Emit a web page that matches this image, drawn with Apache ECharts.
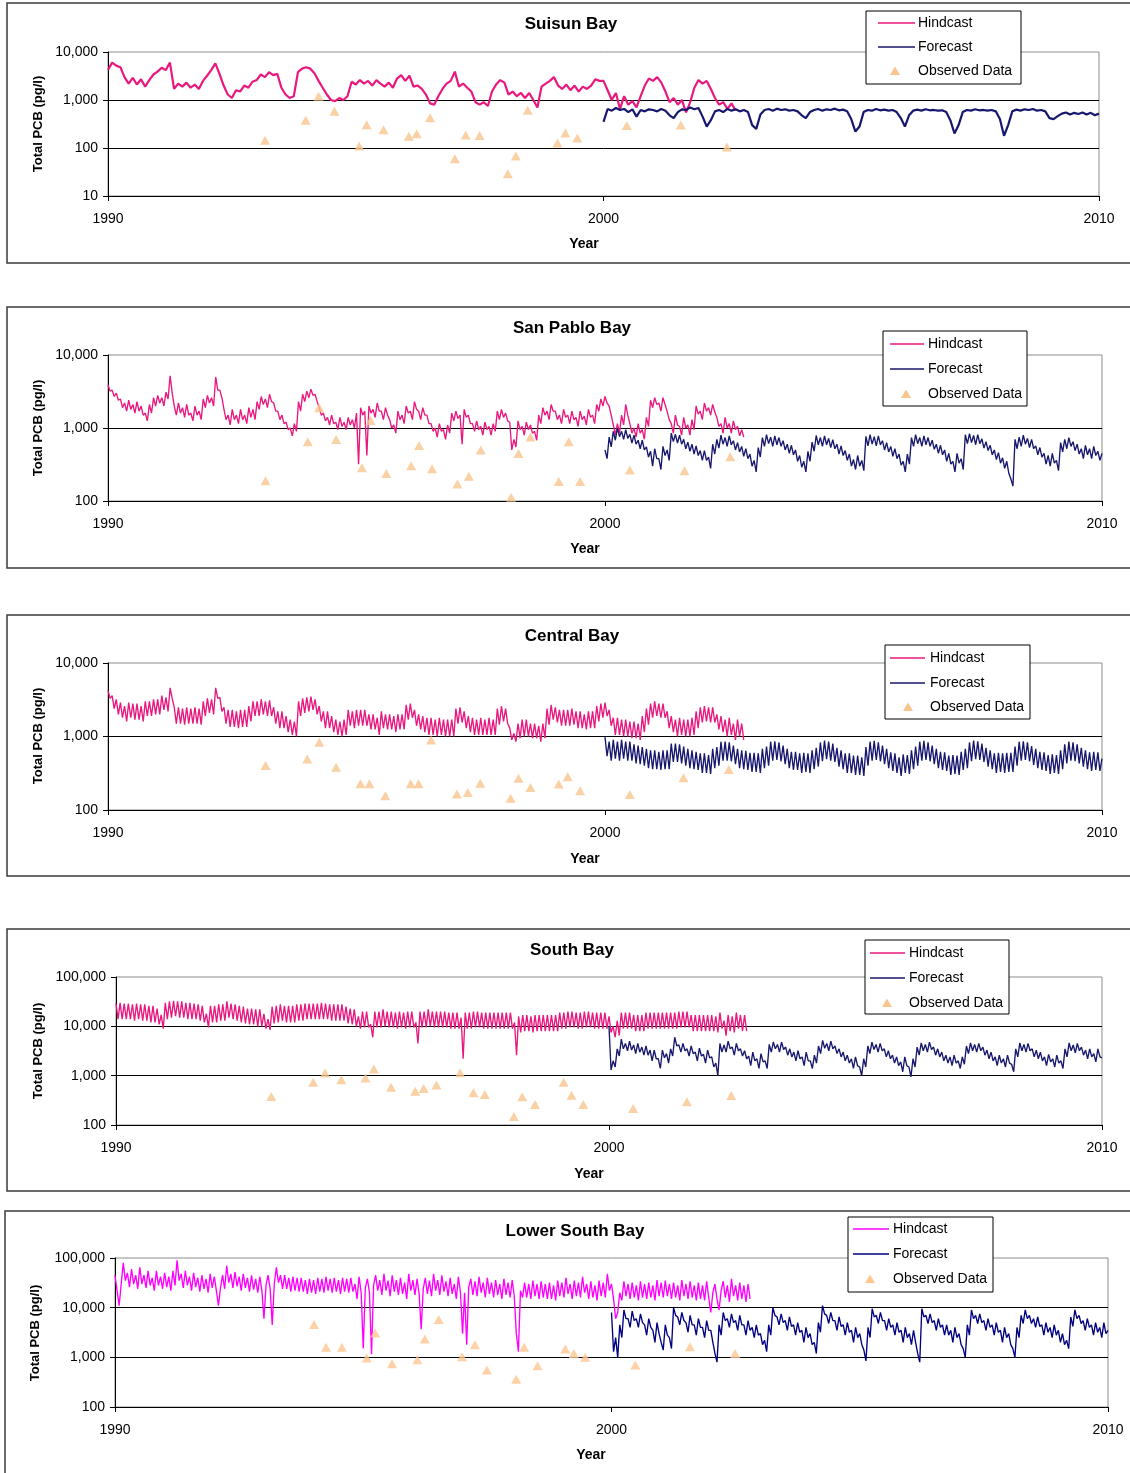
<!DOCTYPE html>
<html><head><meta charset="utf-8">
<script src="https://cdn.jsdelivr.net/npm/echarts@6/dist/echarts.min.js"></script>
<style>html,body{margin:0;padding:0;background:#fff}#c{width:1130px;height:1473px}</style>
</head><body><div id="c"></div>
<script>
// ---------- DATA ----------
const HIND_START = 1990;   // hindcast series start
const FORE_START = 2000;   // forecast series start
const xTickLabels = ['1990', '2000', '2010'];

// Suisun Bay: one value per month
const suisunStepsPerYear = 12;
const suisunHindcast = [4200,6000,5200,4800,3000,2200,2900,2100,2700,1900,2600,3400,
3900,4700,4200,6000,1700,2200,1900,2300,1800,2100,1700,2500,
3200,4200,5800,3500,2000,1300,1100,1600,1500,2000,1800,2400,
2600,3400,3000,3800,3300,3500,1800,1300,1100,1200,3800,4500,
4800,4500,3600,2500,1800,1300,1000,950,1100,1000,1200,2400,
2100,2600,2200,2500,2000,2600,2200,1900,2300,1800,2800,3300,
2500,3200,1900,2000,1700,1300,850,800,1200,1700,2200,2500,
3900,1900,2200,1800,1500,900,800,900,750,1500,2100,2600,
2300,1300,1500,1200,1400,1100,1400,1000,700,1900,2200,2500,
3000,2000,1700,2100,1600,2000,1500,1900,1700,2000,2700,2500,
2500,1600,1000,1400,650,1200,800,950,700,1200,2000,2800,
2500,3000,2300,1500,900,1100,800,1000,550,900,1800,2600,
2200,2500,1700,1100,800,900,650,850,600];
const suisunForecast = [350,650,600,680,620,650,560,640,450,620,580,640,
620,580,650,600,480,420,560,640,620,700,640,680,
450,280,380,580,620,560,650,600,640,580,620,560,
300,250,500,620,650,600,660,620,640,600,620,580,
480,420,560,620,650,600,640,620,660,610,630,580,
400,220,280,560,620,600,650,610,630,600,620,560,
420,280,480,600,630,600,640,610,620,600,610,560,
380,200,300,560,620,600,640,610,620,600,620,580,
400,180,300,580,630,600,640,620,650,600,620,580,
420,400,460,520,550,500,540,510,550,500,540,480,
520];
const suisunObserved = [[1993.17,145],[1993.99,377],[1994.25,1190],[1994.57,580],[1995.07,110],[1995.22,306],[1995.56,241],[1996.07,175],[1996.23,199],[1996.5,429],[1997.0,60],[1997.22,187],[1997.5,182],[1998.07,29],[1998.23,68],[1998.47,610],[1999.07,127],[1999.23,205],[1999.47,162],[2000.47,295],[2001.56,300],[2002.49,105]];

// Other bays: two values per month (band top / band bottom)
const bayStepsPerYear = 24;
const sanPabloHindcast = [3900,3200,3300,2700,3000,2400,2500,1900,2200,1700,2400,1800,2100,1600,2300,1700,2000,1500,1600,1250,2100,1600,2600,2000,
2800,2200,2600,2000,3100,2500,5200,3000,2000,1500,2200,1600,1900,1400,2100,1500,1600,1250,2000,1500,1700,1300,2500,1900,
2800,2200,2600,2000,5000,3300,3300,2600,1800,1300,1500,1100,1800,1300,1500,1150,1800,1300,1500,1150,1900,1400,1800,1300,
2300,1800,2700,2100,2500,1900,2900,2300,2200,1700,1700,1300,1500,1150,1200,950,1000,780,1150,900,2300,1700,2900,2300,
3200,2600,3400,2800,2900,2300,1900,1500,1600,1250,1400,1100,1500,1150,1200,950,1400,1050,1200,950,1400,1100,1300,1000,
1600,320,1900,1500,1700,420,2000,1600,1800,1400,2200,1700,1700,1300,1900,1500,1300,1000,1100,850,1700,1300,1500,1150,
2000,1600,1700,1300,2300,1800,1700,1300,1900,1500,1500,1150,1150,900,1000,750,1150,900,950,700,1100,850,1600,1250,
1700,1350,1500,600,1800,1400,1500,1150,1150,900,1250,950,1050,800,1200,950,1050,800,1150,900,1700,1300,1800,1400,
1600,1250,1200,500,700,550,1250,950,1050,800,1200,950,1100,850,900,680,1500,1150,1900,1500,1700,1300,2100,1700,
1700,1300,1500,1150,1800,1400,1500,1150,1700,1300,1400,1050,1700,1300,1450,1100,1800,1400,1500,1150,2100,1700,2500,2000,
2700,2200,2000,1500,1100,800,1150,850,1500,1100,2100,1500,1150,850,1000,750,1150,850,950,700,1400,1050,2400,1900,
2600,2100,2200,1700,2600,2100,1700,1300,1150,850,1500,1100,1050,800,1400,1000,1100,800,1300,950,2000,1550,1700,1300,
2200,1700,1900,1500,2100,1650,1400,1050,1150,850,1400,1000,1150,850,1250,950,1050,780,950,750];
const sanPabloForecast = [500,380,750,550,900,680,1000,760,900,700,950,720,820,620,800,600,680,520,680,500,550,400,480,300,
520,380,380,270,560,420,500,360,850,650,820,620,800,600,700,520,640,480,600,440,570,420,490,360,
490,360,400,280,600,440,700,530,800,600,740,560,780,590,670,500,630,470,560,410,520,380,440,300,
360,250,540,400,740,560,810,610,750,560,780,590,740,560,670,500,600,450,580,430,500,350,420,290,
350,250,480,350,640,480,790,590,740,560,780,590,720,540,690,520,600,440,570,420,490,360,440,300,
370,270,420,300,360,260,770,570,810,600,760,570,780,590,670,500,630,470,560,410,520,380,440,310,
350,250,440,320,740,560,810,610,740,560,780,590,740,560,680,510,600,450,580,430,500,350,450,320,
350,250,450,330,380,270,810,610,840,630,790,590,810,610,710,530,650,490,580,430,500,370,460,330,
390,280,350,240,200,160,700,520,750,560,800,600,720,540,700,520,570,430,540,400,450,320,420,300,
450,330,360,260,630,470,700,520,740,560,650,490,600,440,520,380,580,430,520,380,560,420,480,360,
450];
const sanPabloObserved = [[1993.17,189],[1994.02,646],[1994.25,1890],[1994.59,695],[1995.11,286],[1995.28,1270],[1995.6,238],[1996.1,305],[1996.26,575],[1996.52,277],[1997.03,171],[1997.26,219],[1997.5,498],[1998.11,113],[1998.26,449],[1998.5,755],[1999.07,185],[1999.27,650],[1999.5,185],[2000.5,266],[2001.6,260],[2002.52,404]];

const centralHindcast = [4200,3300,3600,2400,3200,2000,2900,1800,2600,1600,2900,1800,2800,1700,2800,1700,2600,1600,3000,1900,3000,1900,3200,2000,
3200,2000,3600,2300,3400,2200,4600,3300,2500,1500,2500,1500,2400,1450,2500,1500,2400,1500,2500,1500,2400,1450,3000,1900,
3300,2100,3200,2000,4600,3300,3400,2200,2500,1500,2300,1350,2300,1350,2200,1300,2300,1350,2300,1350,2600,1600,3000,1900,
3000,1900,3200,2000,3000,1900,3100,1900,2500,1500,2200,1300,2200,1300,1900,1150,1700,1050,1600,1000,3000,1900,3300,2100,
3400,2200,3500,2300,3200,2000,2600,1600,2200,1300,2200,1300,1900,1150,1700,1050,1600,1000,1700,1050,2300,1400,2200,1300,
2300,1400,2300,1400,2300,1400,2000,1250,2000,1250,1800,1050,2200,1300,2000,1250,2000,1250,1900,1150,2000,1250,2000,1250,
2700,1700,2800,1800,2300,1400,2000,1250,1900,1150,1800,1050,1800,1050,1700,1000,1800,1050,1700,1000,1700,1000,1700,1000,
2400,1500,2500,1550,2200,1300,1900,1150,1800,1050,1700,1050,1800,1050,1700,1050,1800,1050,1700,1050,2400,1450,2600,1600,
2400,1500,1300,900,1100,850,1500,950,1700,1000,1700,1000,1500,950,1500,950,1400,850,1500,950,2400,1450,2700,1700,
2500,1550,2300,1400,2300,1400,2300,1400,2400,1450,2200,1300,2200,1300,2000,1250,2200,1300,2200,1300,2600,1600,2800,1800,
2900,1900,2300,1400,1800,1050,1800,1050,1700,1000,1700,1000,1600,950,1600,950,1500,900,1900,1150,2400,1450,2800,1800,
3000,1900,2800,1800,2800,1800,2200,1300,1900,1150,1700,1000,1800,1050,1700,1000,1700,1000,1800,1050,2200,1300,2500,1550,
2600,1600,2500,1550,2500,1550,2000,1250,1900,1150,1700,1000,1800,1050,1500,900,1700,1000,1500,900];
const centralForecast = [980,540,850,470,900,500,850,470,900,500,850,470,850,470,780,430,750,420,720,400,680,370,650,360,
650,360,620,350,650,360,650,360,800,450,800,450,780,430,730,400,680,370,650,360,620,350,590,320,
590,320,560,310,680,370,720,400,850,470,850,470,830,460,750,420,680,370,650,360,640,350,600,330,
600,330,590,320,680,370,730,400,850,470,860,480,830,460,750,420,680,370,620,350,620,350,590,320,
600,330,590,320,650,360,700,390,830,460,880,490,850,470,800,450,700,390,650,360,590,320,590,320,
550,300,550,300,520,290,720,400,850,470,870,480,830,460,750,420,680,370,610,340,590,320,520,290,
570,320,560,310,650,360,730,400,850,470,870,480,830,460,750,420,680,370,620,350,610,340,550,300,
560,310,550,300,620,350,680,370,830,460,880,490,860,480,800,450,700,390,650,360,590,320,600,330,
590,320,600,330,600,330,730,400,850,470,860,480,830,460,740,410,680,370,620,350,610,340,560,310,
570,320,560,310,650,360,780,430,850,470,830,460,780,430,700,390,650,360,610,340,620,350,610,340,
500];
const centralObserved = [[1993.17,403],[1994.01,495],[1994.25,834],[1994.59,382],[1995.08,227],[1995.26,227],[1995.58,156],[1996.09,227],[1996.25,227],[1996.5,897],[1997.02,165],[1997.24,173],[1997.49,232],[1998.1,145],[1998.26,271],[1998.5,203],[1999.07,225],[1999.25,283],[1999.5,183],[2000.5,163],[2001.58,274],[2002.49,356]];

const southHindcast = [29000,14000,30000,14000,29000,14000,29000,14000,28000,13000,29000,14000,28000,13000,28000,13000,26000,12000,26000,12000,23000,11000,17000,9000,
30000,14000,32000,15000,33000,16000,32000,15000,32000,15000,30000,14000,30000,14000,29000,14000,28000,13000,26000,12000,18000,9500,26000,12000,
26000,12000,28000,13000,28000,13000,32000,15000,29000,14000,28000,13000,26000,12000,25000,11500,23000,11000,23000,11000,22000,10000,22000,10000,
18000,9000,14000,8500,25000,11500,26000,12000,28000,13000,26000,12000,26000,12000,26000,12000,28000,13000,28000,13000,29000,14000,29000,14000,
29000,14000,29000,14000,30000,14000,29000,14000,28000,13000,28000,13000,28000,13000,28000,13000,25000,11500,23000,11000,22000,10000,16000,9000,
20000,9500,20000,9500,11000,6000,20000,9500,20000,9500,22000,10000,20000,9500,20000,9500,19000,9000,20000,9500,19000,9000,20000,9500,
20000,9500,12000,4500,20000,9500,20000,9500,22000,10000,20000,9500,20000,9500,20000,9500,20000,9500,19000,9000,19000,9000,19000,9000,
15000,2200,19000,9000,19000,9000,20000,9500,20000,9500,19000,9000,19000,9000,19000,9000,19000,9000,19000,9000,19000,9000,19000,9000,
19000,9000,12000,2600,16000,7500,17000,8000,17000,8000,16000,7500,17000,8000,17000,8000,17000,8000,17000,8000,17000,8000,17000,8000,
19000,9000,19000,9000,20000,9500,20000,9500,19000,9000,19000,9000,20000,9500,20000,9500,19000,9000,19000,9000,19000,9000,19000,9000,
16000,7500,10000,6000,13000,6500,19000,9000,19000,9000,19000,9000,17000,8000,17000,8000,17000,8000,19000,9000,19000,9000,19000,9000,
19000,9000,19000,9000,19000,9000,19000,9000,19000,9000,20000,9500,20000,9500,20000,9500,17000,8000,17000,8000,17000,8000,17000,8000,
17000,8000,17000,8000,16000,7500,19000,9000,13000,6500,17000,8000,16000,7500,19000,9000,17000,8000,17000,8000];
const southForecast = [10000,1300,2000,1500,3500,2500,5500,3500,4500,3200,5000,3300,4200,2800,4500,3000,3800,2600,4000,2600,3300,2000,3300,2200,
2200,1400,3300,2300,2800,1800,3500,2500,6000,4000,4200,3000,4500,3200,3500,2500,4000,2800,3000,2000,3600,2500,2700,1800,
3300,2300,2400,1500,1800,1000,4500,3000,4200,3000,5000,3500,3800,2600,4500,3200,3500,2500,3200,2200,2500,1600,3000,2000,
2200,1400,2800,1900,2000,1400,4300,3000,4800,3500,4300,3000,4800,3400,3800,2600,3500,2400,3000,2000,3200,2200,2400,1600,
3000,2000,2000,1400,2600,1800,4000,2800,5200,3600,4500,3200,5000,3500,4000,2800,3500,2400,3000,2000,2600,1800,2200,1400,
2400,1600,1500,1000,2200,1500,4000,2800,4800,3400,4300,3000,4500,3200,3500,2400,3200,2200,2600,1800,2400,1600,1900,1200,
2400,1600,1500,950,2200,1500,3800,2600,4600,3200,4300,3000,4800,3400,3800,2600,3500,2400,3000,2000,2600,1800,2400,1600,
2600,1800,2000,1400,2400,1700,4000,2800,4600,3200,4300,3000,4500,3200,3800,2600,3300,2200,3000,2000,2400,1600,2600,1800,
2200,1500,2600,1800,1700,1200,3500,2400,4600,3200,4300,3000,4500,3200,3500,2400,3300,2200,3000,2000,2400,1600,2700,1900,
2200,1500,2600,1800,2000,1400,3500,2400,4600,3200,4200,2900,4500,3200,3800,2600,3300,2200,3500,2400,2800,1900,3500,2400,
2300];
const southObserved = [[1993.15,378],[1994.0,735],[1994.24,1130],[1994.57,830],[1995.06,898],[1995.23,1360],[1995.58,582],[1996.07,484],[1996.24,547],[1996.5,648],[1996.98,1150],[1997.25,448],[1997.48,414],[1998.07,149],[1998.24,372],[1998.5,261],[1999.08,735],[1999.24,402],[1999.48,261],[2000.49,217],[2001.58,295],[2002.48,396]];

const lsbHindcast = [45000,22000,11000,30000,80000,35000,50000,26000,60000,30000,45000,24000,65000,30000,45000,25000,55000,28000,40000,22000,55000,28000,42000,24000,
50000,26000,42000,22000,55000,28000,90000,35000,48000,25000,55000,28000,42000,22000,50000,26000,40000,21000,45000,24000,38000,20000,48000,25000,
42000,22000,11000,25000,45000,24000,70000,32000,48000,25000,52000,27000,42000,22000,48000,25000,40000,21000,45000,23000,38000,20000,42000,22000,
6000,28000,45000,24000,4500,30000,65000,32000,45000,24000,45000,24000,40000,21000,42000,22000,40000,21000,40000,21000,36000,19000,38000,20000,
36000,19000,40000,21000,38000,20000,42000,22000,38000,20000,40000,21000,36000,19000,40000,21000,38000,20000,40000,21000,30000,15000,42000,20000,
1500,25000,38000,20000,1150,28000,45000,22000,36000,18000,48000,22000,35000,17000,45000,21000,36000,18000,40000,19000,32000,15000,48000,22000,
36000,18000,38000,19000,3700,24000,40000,19000,35000,17000,48000,22000,36000,18000,45000,21000,34000,17000,40000,19000,30000,15000,42000,20000,
3000,20000,1800,26000,38000,18000,34000,17000,42000,20000,32000,16000,40000,19000,32000,16000,36000,18000,30000,15000,38000,18000,32000,16000,
36000,17000,3000,1300,22000,16000,32000,16000,30000,15000,35000,17000,30000,15000,34000,16000,30000,15000,32000,15000,28000,14000,35000,17000,
32000,16000,40000,19000,30000,15000,35000,17000,32000,16000,42000,20000,30000,15000,34000,16000,28000,14000,35000,17000,32000,16000,48000,22000,
30000,15000,6000,8000,20000,14000,34000,17000,30000,15000,32000,16000,28000,14000,34000,16000,30000,15000,32000,16000,28000,14000,36000,17000,
32000,16000,35000,17000,30000,15000,32000,16000,28000,14000,36000,17000,30000,15000,34000,16000,28000,14000,32000,15000,28000,14000,34000,16000,
8000,20000,30000,15000,9000,22000,34000,16000,28000,13000,38000,17000,28000,14000,32000,15000,28000,13000,30000,15000];
const lsbForecast = [8000,1300,2500,1000,4500,2500,9000,6000,6000,4000,8500,5500,6000,4000,7500,5000,4500,2800,6000,4000,3500,2000,5000,3000,
2000,1400,4500,2800,2500,1500,10000,7000,6500,4500,8000,5500,5000,3200,7000,4500,4500,2800,6000,4000,4000,2500,5500,3500,
3500,2000,1200,800,4500,2800,8000,5500,6000,4000,7500,5000,5500,3500,7000,4500,4500,2800,5500,3500,4000,2500,4500,2800,
3000,1800,2200,1300,4500,2800,10000,7000,6500,4500,7500,5000,5500,3500,6500,4200,4500,2800,5000,3200,3500,2000,4000,2500,
3000,1800,2000,1200,5000,3200,11000,7500,7000,4800,8000,5500,5500,3500,6500,4200,4500,2800,5000,3200,3500,2000,4000,2500,
3000,1800,1400,850,4000,2500,9500,6500,7000,4800,8000,5500,5500,3500,6000,4000,4500,2800,5000,3200,3500,2000,4000,2500,
3000,1800,3500,2000,1200,800,9500,6500,7000,4800,7500,5000,5500,3500,6000,4000,4500,2800,4500,2800,3500,2000,4000,2500,
3000,1800,1500,1000,4500,2800,9000,6000,7000,4800,7500,5000,5500,3500,6000,4000,4500,2800,5000,3200,3500,2000,4000,2500,
3000,1800,1500,1000,4000,2500,7000,4800,9000,6000,7000,4800,6000,4000,6500,4200,4500,2800,5000,3200,4000,2500,4500,2800,
3500,2000,3000,1800,2200,1500,6500,4200,9000,6000,7000,4800,5500,3500,6000,4000,4500,2800,5000,3200,4000,2500,5000,3000,
3500];
const lsbObserved = [[1994.01,4600],[1994.25,1600],[1994.57,1600],[1995.07,970],[1995.24,3100],[1995.58,745],[1996.09,897],[1996.24,2350],[1996.52,5800],[1996.99,1030],[1997.25,1800],[1997.49,553],[1998.08,364],[1998.24,1600],[1998.51,678],[1999.07,1470],[1999.24,1200],[1999.47,1000],[2000.48,700],[2001.58,1630],[2002.49,1200]];

const panelTitles = ['Suisun Bay', 'San Pablo Bay', 'Central Bay', 'South Bay', 'Lower South Bay'];
const legendNames = ['Hindcast', 'Forecast', 'Observed Data'];
const yAxisTitle = 'Total PCB (pg/l)';
const xAxisTitle = 'Year';

// ---------- LAYOUT / STYLE ----------
const FONT = '"Liberation Sans", Arial, Helvetica, sans-serif';
const PINK = '#E8187E', NAVY = '#17176E', TAN = '#F9C48E';
const panels = [
  { hind: suisunHindcast, fore: suisunForecast, obs: suisunObserved, steps: suisunStepsPerYear, lw: 2.2, yMin: 10, yMax: 10000,
    hc: PINK, fc: NAVY, oc: TAN,
    box: [7, 3, 1140, 260], grid: [108, 52, 991, 144], title: [571, 24], yt: [38, 124], xt: [584, 244],
    lg: { x: 866, y: 11, w: 155, h: 73, l1: 878, l2: 915, tx: 918, rows: [23, 47, 71], tri: 895 } },
  { hind: sanPabloHindcast, fore: sanPabloForecast, obs: sanPabloObserved, steps: bayStepsPerYear, lw: 1.35, yMin: 100, yMax: 10000,
    hc: PINK, fc: NAVY, oc: TAN,
    box: [7, 307, 1140, 261], grid: [108, 355, 994, 146], title: [572, 328], yt: [38, 428], xt: [585, 549],
    lg: { x: 883, y: 331, w: 144, h: 75, l1: 890, l2: 924, tx: 928, rows: [344, 369, 394], tri: 906 } },
  { hind: centralHindcast, fore: centralForecast, obs: centralObserved, steps: bayStepsPerYear, lw: 1.35, yMin: 100, yMax: 10000,
    hc: PINK, fc: NAVY, oc: TAN,
    box: [7, 615, 1140, 261], grid: [108, 663, 994, 147], title: [572, 636], yt: [38, 736], xt: [585, 859],
    lg: { x: 885, y: 645, w: 145, h: 74, l1: 890, l2: 925, tx: 930, rows: [658, 683, 707], tri: 908 } },
  { hind: southHindcast, fore: southForecast, obs: southObserved, steps: bayStepsPerYear, lw: 1.35, yMin: 100, yMax: 100000,
    hc: PINK, fc: NAVY, oc: TAN,
    box: [7, 929, 1140, 262], grid: [116, 977, 986, 148], title: [572, 950], yt: [38, 1051], xt: [589, 1174],
    lg: { x: 865, y: 940, w: 144, h: 74, l1: 870, l2: 905, tx: 909, rows: [953, 978, 1003], tri: 887 } },
  { hind: lsbHindcast, fore: lsbForecast, obs: lsbObserved, steps: bayStepsPerYear, lw: 1.35, yMin: 100, yMax: 100000,
    hc: '#FF00FF', fc: '#000080', oc: '#FFC690',
    box: [5, 1211, 1140, 280], grid: [115, 1258, 993, 149], title: [575, 1231], yt: [35, 1333], xt: [591, 1455],
    lg: { x: 848, y: 1217, w: 145, h: 75, l1: 853, l2: 889, tx: 893, rows: [1229, 1254, 1279], tri: 870 } }
];

const fmtThousands = v => String(Math.round(v)).replace(/\B(?=(\d{3})+(?!\d))/g, ',');
const textStyle = (text, font, align) => ({ text, font, fill: '#000', textAlign: align, textVerticalAlign: 'middle', align, verticalAlign: 'middle' });

const grids = [], xAxes = [], yAxes = [], series = [], graphics = [];
panels.forEach((p, i) => {
  grids.push({ left: p.grid[0], top: p.grid[1], width: p.grid[2], height: p.grid[3],
    show: true, borderColor: '#8c8c8c', borderWidth: 1, backgroundColor: 'transparent', containLabel: false });
  xAxes.push({ gridIndex: i, type: 'value', min: 1990, max: 2010, interval: 10,
    axisLine: { show: true, onZero: false, lineStyle: { color: '#000', width: 1 } },
    axisTick: { show: true, inside: false, length: 5, lineStyle: { color: '#000' } },
    axisLabel: { color: '#000', fontSize: 14, fontFamily: FONT, margin: 16,
      formatter: v => xTickLabels[Math.round((v - 1990) / 10)] || '' },
    splitLine: { show: false } });
  yAxes.push({ gridIndex: i, type: 'log', logBase: 10, min: p.yMin, max: p.yMax,
    axisLine: { show: true, lineStyle: { color: '#000', width: 1 } },
    axisTick: { show: true, inside: false, length: 5, lineStyle: { color: '#000' } },
    minorTick: { show: false },
    axisLabel: { color: '#000', fontSize: 14, fontFamily: FONT, margin: 10, formatter: fmtThousands },
    splitLine: { show: true, showMinLine: false, showMaxLine: false, lineStyle: { color: '#000', width: 1 } } });
  series.push({ type: 'line', name: legendNames[0], xAxisIndex: i, yAxisIndex: i, showSymbol: false, symbol: 'none',
    data: p.hind.map((v, k) => [HIND_START + k / p.steps, v]),
    lineStyle: { color: p.hc, width: p.lw }, itemStyle: { color: p.hc }, silent: true, z: 2 });
  series.push({ type: 'line', name: legendNames[1], xAxisIndex: i, yAxisIndex: i, showSymbol: false, symbol: 'none',
    data: p.fore.map((v, k) => [FORE_START + k / p.steps, v]),
    lineStyle: { color: p.fc, width: p.lw }, itemStyle: { color: p.fc }, silent: true, z: 3 });
  series.push({ type: 'scatter', name: legendNames[2], xAxisIndex: i, yAxisIndex: i,
    data: p.obs, symbol: 'triangle', symbolSize: [10, 9],
    itemStyle: { color: p.oc }, silent: true, z: 4 });

  graphics.push({ type: 'rect', shape: { x: p.box[0], y: p.box[1], width: p.box[2], height: p.box[3] },
    style: { fill: 'none', stroke: '#3a3a3a', lineWidth: 1.5 }, z: 1, silent: true });
  graphics.push({ type: 'text', x: p.title[0], y: p.title[1], z: 50, silent: true,
    style: textStyle(panelTitles[i], 'bold 17px ' + FONT, 'center') });
  graphics.push({ type: 'text', x: p.yt[0], y: p.yt[1], rotation: Math.PI / 2, z: 50, silent: true,
    style: textStyle(yAxisTitle, 'bold 13px ' + FONT, 'center') });
  graphics.push({ type: 'text', x: p.xt[0], y: p.xt[1], z: 50, silent: true,
    style: textStyle(xAxisTitle, 'bold 14px ' + FONT, 'center') });
  const L = p.lg;
  graphics.push({ type: 'rect', shape: { x: L.x, y: L.y, width: L.w, height: L.h },
    style: { fill: '#fff', stroke: '#000', lineWidth: 1 }, z: 60, silent: true });
  [p.hc, p.fc].forEach((c, j) => {
    graphics.push({ type: 'line', shape: { x1: L.l1, y1: L.rows[j], x2: L.l2, y2: L.rows[j] },
      style: { stroke: c, lineWidth: 1.3 }, z: 61, silent: true });
  });
  const ty = L.rows[2];
  graphics.push({ type: 'polygon', shape: { points: [[L.tri, ty - 4.5], [L.tri + 5, ty + 4], [L.tri - 5, ty + 4]] },
    style: { fill: p.oc }, z: 61, silent: true });
  legendNames.forEach((n, j) => {
    graphics.push({ type: 'text', x: L.tx, y: L.rows[j], z: 62, silent: true,
      style: textStyle(n, '14px ' + FONT, 'left') });
  });
});

const chart = echarts.init(document.getElementById('c'), null, { renderer: 'canvas' });
chart.setOption({
  animation: false,
  backgroundColor: '#fff',
  grid: grids, xAxis: xAxes, yAxis: yAxes, series: series,
  graphic: { elements: graphics }
});
</script>
</body></html>
